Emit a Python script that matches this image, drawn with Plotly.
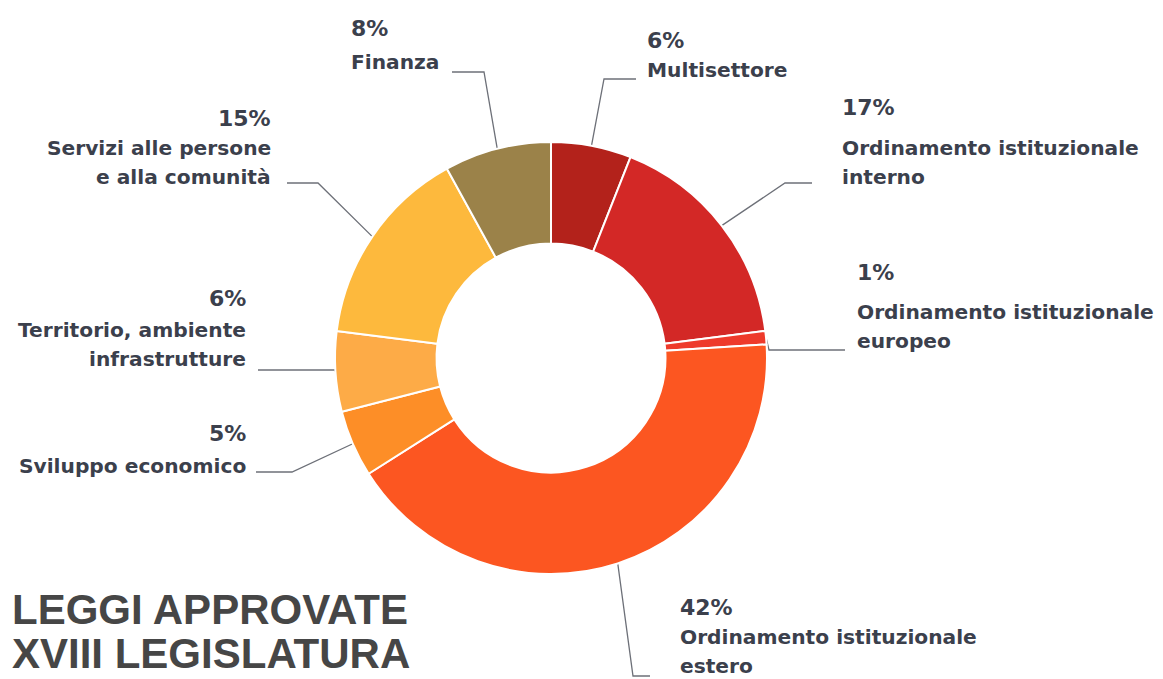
import math
import plotly.graph_objects as go

# ---- data ----
categories = [
    "Multisettore",
    "Ordinamento istituzionale<br>interno",
    "Ordinamento istituzionale<br>europeo",
    "Ordinamento istituzionale<br>estero",
    "Sviluppo economico",
    "Territorio, ambiente<br>infrastrutture",
    "Servizi alle persone<br>e alla comunità",
    "Finanza",
]
values = [6, 17, 1, 42, 5, 6, 15, 8]
colors = ["#b3221b", "#d32826", "#ee3a2b", "#fc5621", "#fd8e27", "#fdab47", "#fdb93d", "#9b8249"]
title_lines = ["LEGGI APPROVATE", "XVIII LEGISLATURA"]

# ---- layout (screen pixels; the page body has an 8px margin) ----
OFF = 8
SW, SH = 1163, 679
W, H = SW - OFF, SH - OFF
CX, CY, R = 551, 358, 216
HOLE = 0.53
TEXT = "#3b404c"
LINE = "#6d7078"
PITCH = 28.5

# (x anchor, y of percentage, y of first name line, align)
label_pos = [
    (645, 40, 70, "left"),
    (840, 107, 148, "left"),
    (855, 272, 312, "left"),
    (678, 607, 637, "left"),
    (248, 433, 466, "right"),
    (248, 298, 330, "right"),
    (273, 118, 148, "right"),
    (349, 28, 62, "left"),
]
elbows = [(604, 79), (785, 183), (769, 350), (633, 676), (292, 472), (335, 370), (318, 183), (484, 72)]
ends = [(636, 79), (812, 183), (845, 350), (650, 676), (256, 472), (258, 370), (287, 183), (452, 72)]

fig = go.Figure()
fig.add_trace(go.Pie(
    values=values, labels=categories, sort=False, direction="clockwise", rotation=0,
    hole=HOLE, textinfo="none", hoverinfo="label+percent",
    marker=dict(colors=colors, line=dict(color="white", width=2)),
    domain=dict(x=[(CX - R - OFF) / W, (CX + R - OFF) / W],
                y=[(SH - (CY + R)) / H, (SH - (CY - R)) / H]),
    showlegend=False,
))

lab_font = dict(family="DejaVu Sans", size=20.2, color=TEXT, weight="bold")
pct_font = dict(family="DejaVu Sans", size=22, color=TEXT, weight="bold")

total = sum(values)
cum = 0
for i, v in enumerate(values):
    mid = (cum + v / 2) / total * 2 * math.pi
    cum += v
    px = CX + R * math.sin(mid)
    py = CY - R * math.cos(mid)
    ex, ey = elbows[i]
    fx, fy = ends[i]
    fig.add_trace(go.Scatter(x=[px, ex, fx], y=[py, ey, fy], mode="lines",
                             line=dict(color=LINE, width=1.3), hoverinfo="skip",
                             showlegend=False))
    lx, pyy, ly, al = label_pos[i]
    fig.add_annotation(x=lx, y=pyy, xref="x", yref="y", text=f"{v}%", showarrow=False,
                       xanchor=al, yanchor="middle", align=al, font=pct_font)
    for k, line in enumerate(categories[i].split("<br>")):
        fig.add_annotation(x=lx, y=ly + k * PITCH, xref="x", yref="y", text=line,
                           showarrow=False, xanchor=al, yanchor="middle", align=al,
                           font=lab_font)

for k, t in enumerate(title_lines):
    fig.add_annotation(x=10, y=609 + k * 44, xref="x", yref="y", text=f"<b>{t}</b>",
                       showarrow=False, xanchor="left", yanchor="middle", align="left",
                       font=dict(family="Liberation Sans, Arial, sans-serif", size=42,
                                 color="#464646"))

fig.update_layout(
    width=W, height=H, margin=dict(l=0, r=0, t=0, b=0),
    paper_bgcolor="white", plot_bgcolor="rgba(0,0,0,0)",
    xaxis=dict(range=[OFF, SW], visible=False, fixedrange=True, domain=[0, 1]),
    yaxis=dict(range=[SH, OFF], visible=False, fixedrange=True, domain=[0, 1]),
)
fig.write_html("out.html")
